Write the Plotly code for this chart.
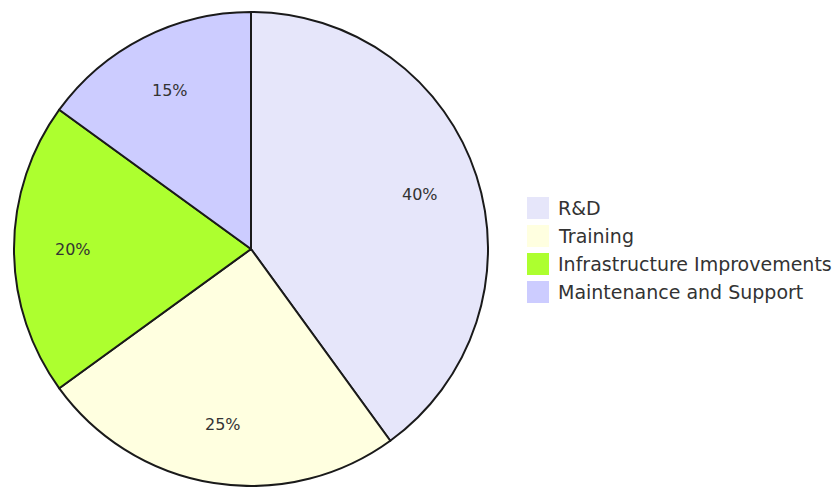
import math
import plotly.graph_objects as go

categories = ["R&D", "Training", "Infrastructure Improvements", "Maintenance and Support"]
values = [40, 25, 20, 15]
colors = ["#E6E6FA", "#FFFFE0", "#ADFF2F", "#CCCCFF"]

W, H = 839, 487
ML, MR, MT, MB = 0, 0, 12, 1
PW, PH = W - ML - MR, H - MT - MB
DOM_X = [0, 502 / PW]

fig = go.Figure(go.Pie(
    labels=categories,
    values=values,
    sort=False,
    direction="clockwise",
    rotation=0,
    textinfo="none",
    hoverinfo="label+percent",
    marker=dict(colors=colors, line=dict(color="#1a1a1a", width=2)),
    domain=dict(x=DOM_X, y=[0, 1]),
    showlegend=False,
))

# geometry of the pie (plotly: radius = min(domain w, h)/2)
dw = (DOM_X[1] - DOM_X[0]) * PW
R = min(dw, PH) / 2
cx = ML + DOM_X[0] * PW + dw / 2
cy = MT + PH / 2

def to_paper(px, py):
    return (px - ML) / PW, (H - MB - py) / PH

total = sum(values)
cum = 0
annotations = []
for v in values:
    a = 2 * math.pi * (cum + v / 2) / total
    cum += v
    px = cx + 0.75 * R * math.sin(a)
    py = cy - 0.75 * R * math.cos(a)
    x, y = to_paper(px, py)
    annotations.append(dict(
        x=x, y=y, xref="paper", yref="paper", showarrow=False,
        text=f"{round(100 * v / total)}%", xanchor="center", yanchor="middle",
        font=dict(family="DejaVu Sans", size=16, color="#333"),
    ))

# custom legend
shapes = []
leg_x0, leg_y0, step, sq = 527, 208, 28, 22
for i, (c, name) in enumerate(zip(colors, categories)):
    ry = leg_y0 + i * step
    x0, y0 = to_paper(leg_x0, ry + sq / 2)
    x1, y1 = to_paper(leg_x0 + sq, ry - sq / 2)
    shapes.append(dict(type="rect", xref="paper", yref="paper",
                       x0=x0, x1=x1, y0=y0, y1=y1,
                       fillcolor=c, line=dict(width=0)))
    tx, ty = to_paper(leg_x0 + sq + 7, ry)
    annotations.append(dict(
        x=tx, y=ty, xref="paper", yref="paper", showarrow=False,
        text=name, xanchor="left", yanchor="middle",
        font=dict(family="DejaVu Sans", size=19, color="#333"),
    ))

fig.update_layout(
    width=W, height=H,
    margin=dict(l=ML, r=MR, t=MT, b=MB),
    paper_bgcolor="white",
    annotations=annotations,
    shapes=shapes,
)

fig.write_html("out.html")
